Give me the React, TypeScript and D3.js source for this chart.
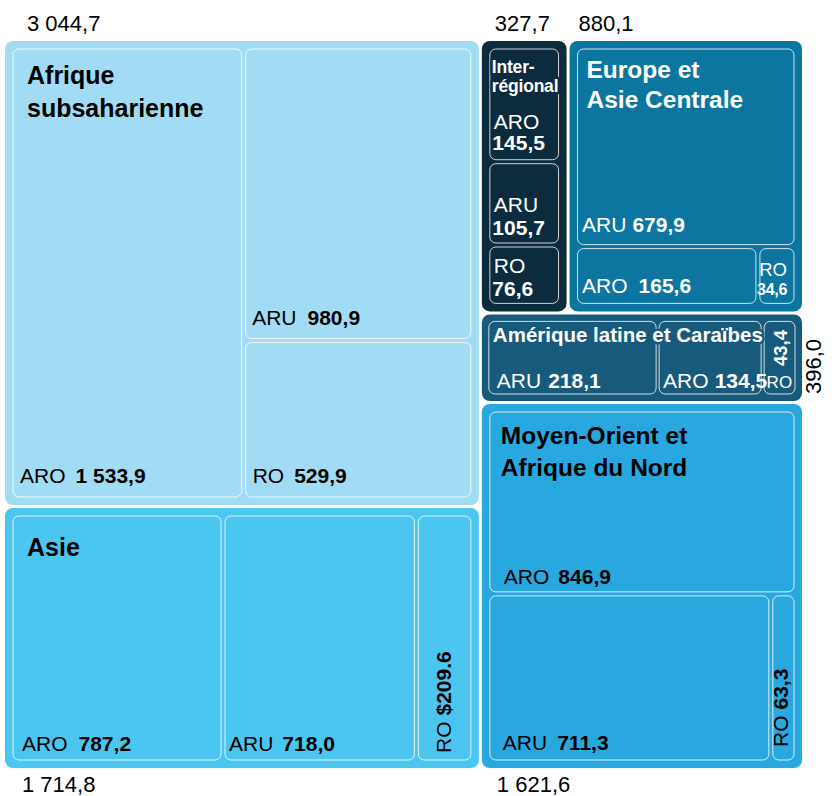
import React from "react";
import * as d3 from "d3";

// ---------- data ----------
const regionKeys = ["ssa", "asia", "inter", "eca", "lac", "mena"];
const regionTitleLines = [
  ["Afrique", "subsaharienne"],
  ["Asie"],
  ["Inter-", "régional"],
  ["Europe et", "Asie Centrale"],
  ["Amérique latine et Caraïbes"],
  ["Moyen-Orient et", "Afrique du Nord"],
];
const seriesNames = ["ARO", "ARU", "RO"];
const aroValues = [1533.9, 787.2, 145.5, 165.6, 134.5, 846.9];
const aruValues = [980.9, 718.0, 105.7, 679.9, 218.1, 711.3];
const roValues = [529.9, 209.6, 76.6, 34.6, 43.4, 63.3];
const regionTotals = [3044.7, 1714.8, 327.7, 880.1, 396.0, 1621.6];

// ---------- styles ----------
const FONT = "'Liberation Sans', Arial, Helvetica, sans-serif";
const W = 834;
const H = 796;
const X0 = 5, Y0 = 41, X1 = 802, Y1 = 768;

const regionStyle: Record<string, any> = {
  ssa: { fill: "#a2dcf4", text: "#000", titleSize: 25, tdx: 22, tdy: [43, 76], total: { dx: 22, dy: -10, pos: "top" } },
  asia: { fill: "#4bc6f1", text: "#000", titleSize: 25, tdx: 22, tdy: [48], total: { dx: 17, dy: 23.5, pos: "bottom" } },
  inter: { fill: "#0c2c3e", text: "#fff", titleSize: 17.5, tdx: 10, tdy: [32, 51], halo: true, ls: -0.2, total: { dx: 13, dy: -10, pos: "top" } },
  eca: { fill: "#0c76a1", text: "#fff", titleSize: 24.5, tdx: 17, tdy: [37, 67], total: { dx: 9, dy: -10, pos: "top" } },
  lac: { fill: "#185a7c", text: "#fff", titleSize: 20.5, tdx: 11, tdy: [28], halo: true, total: { dx: 19, dy: -7, pos: "right" } },
  mena: { fill: "#29a8e0", text: "#000", titleSize: 24.5, tdx: 19, tdy: [40, 72], total: { dx: 15, dy: 23.5, pos: "bottom" } },
};

const labelStyle: Record<string, any> = {
  "ssa.ARO": { type: "inline", dx: 7, by: 14, gap: 10 },
  "ssa.ARU": { type: "inline", dx: 6.5, by: 13.5, gap: 11 },
  "ssa.RO": { type: "inline", dx: 7, by: 14, gap: 10 },
  "asia.ARO": { type: "inline", dx: 9, by: 9, gap: 11 },
  "asia.ARU": { type: "inline", dx: 4, by: 9, gap: 9 },
  "asia.RO": { type: "rotated", dx: 6.5, by: 7, gap: 6, money: true },
  "inter.ARO": { type: "stacked", dx: 2.5, nb: 31, vb: 10 },
  "inter.ARU": { type: "stacked", dx: 2.5, nb: 31, vb: 8 },
  "inter.RO": { type: "stacked", dx: 2.5, nb: 30, vb: 7 },
  "eca.ARU": { type: "inline", dx: 4.5, by: 12.5, gap: 6 },
  "eca.ARO": { type: "inline", dx: 4.5, by: 10, gap: 11 },
  "eca.RO": { type: "rightStacked", rx: 7, nb: 27, vb: 8 },
  "lac.ARU": { type: "inline", dx: 8, by: 6, gap: 7 },
  "lac.ARO": { type: "inline", dx: 4, by: 6, gap: 6 },
  "lac.RO": { type: "lacRO" },
  "mena.ARO": { type: "inline", dx: 14, by: 7.5, gap: 9 },
  "mena.ARU": { type: "inline", dx: 13, by: 10, gap: 10 },
  "mena.RO": { type: "rotated", dx: 5, by: 13, gap: 6 },
};

const fr = d3.formatLocale({ decimal: ",", thousands: "\u00a0", grouping: [3], currency: ["", ""] });
const fmt = fr.format(",.1f");
const fmtMoney = d3.format("$.1f");

// ---------- hierarchy ----------
function leaf(r: string, s: string) {
  const i = regionKeys.indexOf(r);
  const arr = [aroValues, aruValues, roValues][seriesNames.indexOf(s)];
  return { kind: "leaf", region: r, series: s, value: arr[i] };
}
function region(r: string): any {
  const L = (s: string) => leaf(r, s);
  switch (r) {
    case "ssa":
      return { kind: "region", key: r, dir: "x", children: [L("ARO"), { kind: "group", key: r, dir: "y", children: [L("ARU"), L("RO")] }] };
    case "asia":
      return { kind: "region", key: r, dir: "x", children: [L("ARO"), L("ARU"), L("RO")] };
    case "inter":
      return { kind: "region", key: r, dir: "y", children: [L("ARO"), L("ARU"), L("RO")] };
    case "eca":
      return { kind: "region", key: r, dir: "y", children: [L("ARU"), { kind: "group", key: r, dir: "x", children: [L("ARO"), L("RO")] }] };
    case "lac":
      return { kind: "region", key: r, dir: "x", children: [L("ARU"), L("ARO"), L("RO")] };
    default:
      return { kind: "region", key: r, dir: "y", children: [L("ARO"), { kind: "group", key: r, dir: "x", children: [L("ARU"), L("RO")] }] };
  }
}

const treeData = {
  kind: "root",
  dir: "x",
  children: [
    { kind: "col", dir: "y", children: [region("ssa"), region("asia")] },
    {
      kind: "col",
      dir: "y",
      children: [{ kind: "row", dir: "x", children: [region("inter"), region("eca")] }, region("lac"), region("mena")],
    },
  ],
};

const tile = (node: any, x0: number, y0: number, x1: number, y1: number) =>
  (node.data.dir === "x" ? d3.treemapDice : d3.treemapSlice)(node, x0, y0, x1, y1);

export default function App() {
  const root = d3.hierarchy<any>(treeData).sum((d: any) => (d.children ? 0 : d.value));
  d3
    .treemap<any>()
    .tile(tile as any)
    .size([X1 - X0, Y1 - Y0])
    .round(false)
    .paddingInner((n: any) => (n.data.kind === "region" || n.data.kind === "group" ? (n.data.key === "lac" ? 3 : 4) : 3))
    .paddingOuter((n: any) => (n.data.kind === "region" ? (n.data.key === "lac" ? 7 : 8) : 0))(root);

  const regions = root.descendants().filter((d: any) => d.data.kind === "region");
  const leaves = root.leaves();

  const renderTitle = (n: any) => {
    const st = regionStyle[n.data.key];
    const lines = regionTitleLines[regionKeys.indexOf(n.data.key)];
    return lines.map((line, i) => (
      <text
        key={i}
        x={n.x0 + st.tdx}
        y={n.y0 + st.tdy[i]}
        fontSize={st.titleSize}
        fontWeight="bold"
        fill={st.text}
        letterSpacing={st.ls || 0}
        stroke={st.halo ? st.fill : "none"}
        strokeWidth={st.halo ? 5 : 0}
        strokeLinejoin="round"
        style={{ paintOrder: "stroke" }}
      >
        {line}
      </text>
    ));
  };

  const renderTotal = (n: any) => {
    const st = regionStyle[n.data.key];
    const t = st.total;
    const v = fmt(regionTotals[regionKeys.indexOf(n.data.key)]);
    if (t.pos === "top") return <text x={n.x0 + t.dx} y={n.y0 + t.dy} fontSize={22} fill="#000">{v}</text>;
    if (t.pos === "bottom") return <text x={n.x0 + t.dx} y={n.y1 + t.dy} fontSize={22} fill="#000">{v}</text>;
    return (
      <text transform={`translate(${n.x1 + t.dx},${n.y1 + t.dy}) rotate(-90)`} fontSize={22} fill="#000">
        {v}
      </text>
    );
  };

  const renderLabel = (n: any) => {
    const key = `${n.data.region}.${n.data.series}`;
    const ls = labelStyle[key];
    const color = regionStyle[n.data.region].text;
    const fill = regionStyle[n.data.region].fill;
    const v = n.data.value;
    const fs = 21;
    if (ls.type === "inline") {
      return (
        <text x={n.x0 + ls.dx} y={n.y1 - ls.by} fontSize={fs} fill={color}>
          <tspan>{n.data.series}</tspan>
          <tspan dx={ls.gap} fontWeight="bold">{fmt(v)}</tspan>
        </text>
      );
    }
    if (ls.type === "rotated") {
      const cx = (n.x0 + n.x1) / 2 + ls.dx;
      return (
        <text transform={`translate(${cx},${n.y1 - ls.by}) rotate(-90)`} fontSize={fs} fill={color}>
          <tspan>{n.data.series}</tspan>
          <tspan dx={ls.gap} fontWeight="bold">{ls.money ? fmtMoney(v) : fmt(v)}</tspan>
        </text>
      );
    }
    if (ls.type === "stacked") {
      return (
        <g fill={color} fontSize={fs}>
          <text x={n.x0 + ls.dx + 1.5} y={n.y1 - ls.nb}>{n.data.series}</text>
          <text x={n.x0 + ls.dx} y={n.y1 - ls.vb} fontWeight="bold">{fmt(v)}</text>
        </g>
      );
    }
    if (ls.type === "rightStacked") {
      return (
        <g fill={color} textAnchor="end">
          <text x={n.x1 - ls.rx} y={n.y1 - ls.nb} fontSize={18.5}>{n.data.series}</text>
          <text x={n.x1 - ls.rx} y={n.y1 - ls.vb} fontSize={16} fontWeight="bold" letterSpacing={-0.3}>{fmt(v)}</text>
        </g>
      );
    }
    // lac RO: name horizontal at bottom, value rotated above
    const cx = (n.x0 + n.x1) / 2;
    return (
      <g fill={color}>
        <text x={n.x0 + 2.5} y={n.y1 - 6} fontSize={17}>{n.data.series}</text>
        <text
          transform={`translate(${cx + 7.5},${n.y1 - 28}) rotate(-90)`}
          fontSize={18.5}
          fontWeight="bold"
          stroke={fill}
          strokeWidth={4}
          strokeLinejoin="round"
          style={{ paintOrder: "stroke" }}
        >
          {fmt(v)}
        </text>
      </g>
    );
  };

  return (
    <svg
      width={W}
      height={H}
      viewBox={`0 0 ${W} ${H}`}
      style={{ position: "absolute", left: 0, top: 0, background: "#fff" }}
      fontFamily={FONT}
    >
      <g transform={`translate(${X0},${Y0})`}>
        {regions.map((n: any) => (
          <rect
            key={`r-${n.data.key}`}
            x={n.x0}
            y={n.y0}
            width={n.x1 - n.x0}
            height={n.y1 - n.y0}
            rx={8}
            fill={regionStyle[n.data.key].fill}
          />
        ))}
        {leaves.map((n: any, i: number) => (
          <rect
            key={`c-${i}`}
            x={n.x0}
            y={n.y0}
            width={n.x1 - n.x0}
            height={n.y1 - n.y0}
            rx={6}
            fill="none"
            stroke="#fff"
            strokeOpacity={0.8}
            strokeWidth={1}
          />
        ))}
        {leaves.map((n: any, i: number) => (
          <g key={`l-${i}`}>{renderLabel(n)}</g>
        ))}
        {regions.map((n: any) => (
          <g key={`t-${n.data.key}`}>{renderTitle(n)}</g>
        ))}
        {regions.map((n: any) => (
          <g key={`tt-${n.data.key}`}>{renderTotal(n)}</g>
        ))}
      </g>
    </svg>
  );
}
